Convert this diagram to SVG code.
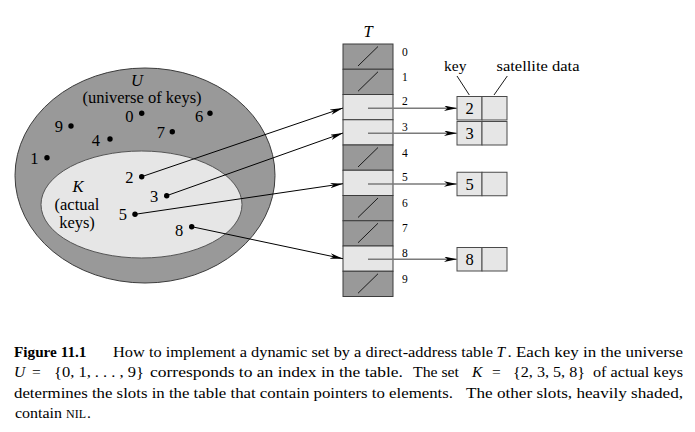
<svg xmlns="http://www.w3.org/2000/svg" width="695" height="432" viewBox="0 0 695 432">
<style>
text{font-family:"Liberation Serif","Times New Roman",serif;fill:#000}
.lbl{font-size:16.5px}
.it{font-style:italic}
.idx{font-size:11.5px}
.cap{font-size:15.5px}
.b{font-weight:bold}
.dark{fill:#999999;stroke:#3c3c3c;stroke-width:1}
.light{fill:#e6e6e6;stroke:#3c3c3c;stroke-width:1}
.slash{stroke:#1a1a1a;stroke-width:1}
.dot{fill:#000}
.ptr{stroke:#000;stroke-width:1;fill:none}
.gptr{stroke:#7a7a7a;stroke-width:1.3;fill:none}
.box{fill:#e6e6e6;stroke:#4a4a4a;stroke-width:1}
.tick{stroke:#000;stroke-width:0.9}
</style>
<defs>
<marker id="ah" markerUnits="userSpaceOnUse" markerWidth="14" markerHeight="7" refX="13" refY="2.75" orient="auto">
<path d="M0,0 L13,2.75 L0,5.5 L3.5,2.75 z" fill="#000"/>
</marker>
</defs>
<rect width="695" height="432" fill="#fff"/>

<g id="universe-U">
<ellipse cx="145" cy="175.5" rx="130" ry="107.5" fill="#999999" stroke="#3c3c3c" stroke-width="1"/>
<text class="lbl it" x="137" y="85.5" text-anchor="middle">U</text>
<text class="lbl" x="142" y="103.3" text-anchor="middle">(universe of keys)</text>
</g>
<g id="actual-keys-K">
<ellipse cx="141.5" cy="204.5" rx="100.5" ry="53.5" fill="#e6e6e6" stroke="#555" stroke-width="1"/>
<text class="lbl it" x="78" y="191.7" text-anchor="middle">K</text>
<text class="lbl" x="77" y="210" text-anchor="middle">(actual</text>
<text class="lbl" x="77" y="228.3" text-anchor="middle">keys)</text>
</g>

<g id="key-0"><circle class="dot" cx="141.7" cy="113.3" r="2.7"/><text class="lbl" x="133.5" y="122.3" text-anchor="end">0</text></g>
<g id="key-6"><circle class="dot" cx="210" cy="113.3" r="2.7"/><text class="lbl" x="203.3" y="122.3" text-anchor="end">6</text></g>
<g id="key-9"><circle class="dot" cx="71" cy="126" r="2.7"/><text class="lbl" x="63" y="131.7" text-anchor="end">9</text></g>
<g id="key-7"><circle class="dot" cx="172.3" cy="131.7" r="2.7"/><text class="lbl" x="165" y="138" text-anchor="end">7</text></g>
<g id="key-4"><circle class="dot" cx="110" cy="139" r="2.7"/><text class="lbl" x="100" y="145.7" text-anchor="end">4</text></g>
<g id="key-1"><circle class="dot" cx="47" cy="157.7" r="2.7"/><text class="lbl" x="38.5" y="164" text-anchor="end">1</text></g>
<g id="key-2"><circle class="dot" cx="141.7" cy="176.7" r="2.7"/><text class="lbl" x="133.5" y="182.5" text-anchor="end">2</text></g>
<g id="key-3"><circle class="dot" cx="166.7" cy="195.7" r="2.7"/><text class="lbl" x="158.3" y="202" text-anchor="end">3</text></g>
<g id="key-5"><circle class="dot" cx="135" cy="214.3" r="2.7"/><text class="lbl" x="127" y="220.3" text-anchor="end">5</text></g>
<g id="key-8"><circle class="dot" cx="191.7" cy="226.7" r="2.7"/><text class="lbl" x="183.3" y="236" text-anchor="end">8</text></g>

<g id="table-T">
<text class="lbl it" x="368" y="36.7" text-anchor="middle">T</text>
<g id="slot-0"><rect class="dark" x="343" y="44" width="50" height="25.25"/><line class="slash" x1="358" y1="66" x2="378" y2="46.5"/><text class="idx" x="402" y="55.5">0</text></g>
<g id="slot-1"><rect class="dark" x="343" y="69.25" width="50" height="25.25"/><line class="slash" x1="358" y1="91.25" x2="378" y2="71.75"/><text class="idx" x="402" y="80.75">1</text></g>
<g id="slot-2"><rect class="light" x="343" y="94.5" width="50" height="25.25"/><text class="idx" x="402" y="105.3">2</text></g>
<g id="slot-3"><rect class="light" x="343" y="119.75" width="50" height="25.25"/><text class="idx" x="402" y="130.5">3</text></g>
<g id="slot-4"><rect class="dark" x="343" y="145" width="50" height="25.25"/><line class="slash" x1="358" y1="167" x2="378" y2="147.5"/><text class="idx" x="402" y="156.5">4</text></g>
<g id="slot-5"><rect class="light" x="343" y="170.25" width="50" height="25.25"/><text class="idx" x="402" y="181">5</text></g>
<g id="slot-6"><rect class="dark" x="343" y="195.5" width="50" height="25.25"/><line class="slash" x1="358" y1="217.5" x2="378" y2="198"/><text class="idx" x="402" y="207">6</text></g>
<g id="slot-7"><rect class="dark" x="343" y="220.75" width="50" height="25.25"/><line class="slash" x1="358" y1="242.75" x2="378" y2="223.25"/><text class="idx" x="402" y="232.25">7</text></g>
<g id="slot-8"><rect class="light" x="343" y="246" width="50" height="25.25"/><text class="idx" x="402" y="256.8">8</text></g>
<g id="slot-9"><rect class="dark" x="343" y="271.25" width="50" height="25.25"/><line class="slash" x1="358" y1="293.25" x2="378" y2="273.75"/><text class="idx" x="402" y="282.75">9</text></g>
</g>

<g id="field-labels">
<text x="444" y="71" style="font-size:15.5px">key</text>
<text x="496.5" y="71" style="font-size:15.5px" textLength="83" lengthAdjust="spacingAndGlyphs">satellite data</text>
<line class="tick" x1="457" y1="76" x2="469.3" y2="95"/>
<line class="tick" x1="507.3" y1="76" x2="494" y2="95"/>
</g>

<g id="elem-2"><rect class="box" x="457" y="96.5" width="25" height="23.5"/><rect class="box" x="482" y="96.5" width="25" height="23.5"/><text class="lbl" x="469.5" y="114.3" text-anchor="middle">2</text></g>
<g id="elem-3"><rect class="box" x="457" y="121.5" width="25" height="23.5"/><rect class="box" x="482" y="121.5" width="25" height="23.5"/><text class="lbl" x="469.5" y="139.3" text-anchor="middle">3</text></g>
<g id="elem-5"><rect class="box" x="457" y="172.25" width="25" height="23.5"/><rect class="box" x="482" y="172.25" width="25" height="23.5"/><text class="lbl" x="469.5" y="190" text-anchor="middle">5</text></g>
<g id="elem-8"><rect class="box" x="457" y="247.5" width="25" height="23.5"/><rect class="box" x="482" y="247.5" width="25" height="23.5"/><text class="lbl" x="469.5" y="265.3" text-anchor="middle">8</text></g>

<g id="connectors">
<line class="ptr" x1="141.7" y1="176.7" x2="343" y2="108" marker-end="url(#ah)"/>
<line class="ptr" x1="166.7" y1="195.7" x2="343" y2="133" marker-end="url(#ah)"/>
<line class="ptr" x1="135" y1="214.3" x2="343" y2="183.7" marker-end="url(#ah)"/>
<line class="ptr" x1="191.7" y1="226.7" x2="343" y2="258.7" marker-end="url(#ah)"/>
<line class="gptr" x1="368" y1="108.25" x2="457" y2="108.25" marker-end="url(#ah)"/>
<line class="gptr" x1="368" y1="133.25" x2="457" y2="133.25" marker-end="url(#ah)"/>
<line class="gptr" x1="368" y1="184" x2="457" y2="184" marker-end="url(#ah)"/>
<line class="gptr" x1="368" y1="259.25" x2="457" y2="259.25" marker-end="url(#ah)"/>
</g>

<g id="caption">
<text class="cap b" x="14" y="356.5" textLength="72.5" lengthAdjust="spacingAndGlyphs">Figure 11.1</text>
<text class="cap" x="113" y="356.5" textLength="380" lengthAdjust="spacingAndGlyphs">How to implement a dynamic set by a direct-address table</text>
<text class="cap it" x="496.5" y="356.5">T</text>
<text class="cap" x="507.5" y="356.5" textLength="175.5" lengthAdjust="spacingAndGlyphs">. Each key in the universe</text>

<text class="cap it" x="14" y="377">U</text>
<text class="cap" x="32" y="377">=</text>
<text class="cap" x="54" y="377" textLength="90" lengthAdjust="spacingAndGlyphs">{0, 1, . . . , 9}</text>
<text class="cap" x="150" y="377" textLength="253" lengthAdjust="spacingAndGlyphs">corresponds to an index in the table.</text>
<text class="cap" x="413" y="377" textLength="46" lengthAdjust="spacingAndGlyphs">The set</text>
<text class="cap it" x="472" y="377">K</text>
<text class="cap" x="492" y="377">=</text>
<text class="cap" x="513" y="377" textLength="72" lengthAdjust="spacingAndGlyphs">{2, 3, 5, 8}</text>
<text class="cap" x="593" y="377" textLength="90" lengthAdjust="spacingAndGlyphs">of actual keys</text>

<text class="cap" x="14" y="397.5" textLength="439" lengthAdjust="spacingAndGlyphs">determines the slots in the table that contain pointers to elements.</text>
<text class="cap" x="466" y="397.5" textLength="217" lengthAdjust="spacingAndGlyphs">The other slots, heavily shaded,</text>

<text class="cap" x="15" y="418" textLength="47" lengthAdjust="spacingAndGlyphs">contain</text>
<text class="cap" x="66" y="418" style="font-size:12px">NIL</text>
<text class="cap" x="87" y="418">.</text>
</g>
</svg>
